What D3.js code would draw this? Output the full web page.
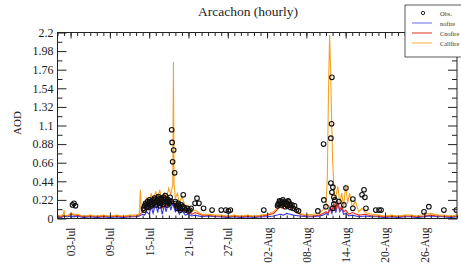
<!DOCTYPE html>
<html><head><meta charset="utf-8">
<script src="https://cdn.jsdelivr.net/npm/d3@7"></script>
<style>body{margin:0;background:#fff} svg{display:block}</style>
</head><body><svg id="c" width="461" height="265"></svg>
<script>
// ---- data (days since 01-Jul 00:00) ----
const tickDays = [2, 8, 14, 20, 26, 32, 38, 44, 50, 56];
const tickLabels = ["03-Jul","09-Jul","15-Jul","21-Jul","27-Jul","02-Aug","08-Aug","14-Aug","20-Aug","26-Aug"];
const yTicks = [0, 0.22, 0.44, 0.66, 0.88, 1.1, 1.32, 1.54, 1.76, 1.98, 2.2];
const yTickLabels = ["0","0.22","0.44","0.66","0.88","1.1","1.32","1.54","1.76","1.98","2.2"];
const legendLabels = ["Obs.","nofire","Cnofire","Callfire"];

const obsDay = [2.29,2.52,2.75,
 13.15,13.3,13.45,13.6,13.75,13.9,14.05,14.2,14.35,14.5,14.65,14.8,14.95,15.1,15.25,15.4,15.55,15.7,15.85,16.0,16.15,16.3,16.45,16.6,16.75,16.9,17.05,17.2,17.35,
 13.22,13.52,13.82,14.12,14.42,14.72,15.02,15.32,15.62,15.92,16.22,16.52,16.82,17.12,
 17.43,17.5,17.74,17.58,17.89,
 18.0,18.15,18.3,18.45,18.6,18.75,18.9,19.05,19.2,19.4,19.6,19.8,20.0,20.2,20.4,18.08,18.38,18.68,19.12,
 21.0,21.3,21.6,22.3,23.6,25.0,25.7,26.1,26.4,
 31.5,33.6,33.8,34.0,34.2,34.4,34.6,34.8,35.0,35.2,35.4,35.6,35.8,36.0,36.2,36.5,36.8,
 33.7,33.9,34.1,34.3,34.5,34.9,35.1,35.3,35.5,
 39.75,40.67,40.98,41.9,41.85,41.74,40.63,
 41.74,42.05,41.9,42.2,42.35,42.2,42.05,42.97,44.04,43.73,45.1,45.1,46.5,46.8,46.94,47.1,48.6,49.1,49.4,
 55.96,56.7,59.0,60.9];
const obsAOD = [0.16,0.18,0.15,
 0.12,0.15,0.18,0.14,0.2,0.17,0.22,0.19,0.15,0.21,0.18,0.24,0.2,0.16,0.22,0.26,0.2,0.18,0.24,0.21,0.17,0.23,0.27,0.2,0.16,0.22,0.18,0.25,0.2,
 0.1,0.16,0.13,0.2,0.17,0.22,0.19,0.24,0.15,0.19,0.25,0.23,0.19,0.21,
 1.05,0.9,0.81,0.67,0.54,
 0.2,0.15,0.12,0.18,0.14,0.1,0.16,0.12,0.28,0.13,0.1,0.12,0.09,0.1,0.12,0.18,0.16,0.12,0.14,
 0.18,0.24,0.18,0.12,0.1,0.1,0.1,0.09,0.1,
 0.1,0.15,0.18,0.2,0.16,0.22,0.19,0.14,0.17,0.21,0.18,0.13,0.16,0.12,0.15,0.1,0.09,
 0.17,0.21,0.18,0.2,0.17,0.19,0.15,0.2,0.16,
 0.09,0.22,0.14,1.67,1.12,0.95,0.88,
 0.42,0.37,0.31,0.25,0.22,0.17,0.12,0.2,0.36,0.16,0.23,0.12,0.28,0.34,0.25,0.12,0.1,0.1,0.1,
 0.08,0.14,0.1,0.1];

const nofireDay = [0,0.5,1,1.5,2,2.5,3,4,5,6,7,8,9,10,11,12,12.5,13,13.3,13.6,14,14.3,14.6,15,15.3,15.6,16,16.3,16.6,17,17.3,17.6,18,18.3,18.6,19,19.5,20,20.5,21,22,23,24,25,26,27,28,29,30,31,32,33,34,34.5,35,35.5,36,37,38,39,40,40.5,41,41.3,41.6,41.9,42.2,42.5,42.8,43.1,43.4,43.7,44,44.5,45,46,47,48,49,50,51,52,53,54,55,56,57,58,59,60,61];
const nofireAOD = [0.02,0.01,0.03,0.02,0.03,0.02,0.03,0.01,0.02,0.01,0.02,0.01,0.02,0.01,0.02,0.02,0.03,0.05,0.04,0.08,0.05,0.14,0.06,0.18,0.07,0.2,0.05,0.16,0.08,0.22,0.1,0.18,0.08,0.12,0.05,0.1,0.04,0.05,0.03,0.04,0.02,0.03,0.02,0.02,0.01,0.02,0.01,0.02,0.01,0.02,0.02,0.03,0.05,0.04,0.06,0.05,0.04,0.03,0.02,0.02,0.03,0.04,0.06,0.04,0.12,0.06,0.15,0.07,0.18,0.08,0.12,0.05,0.06,0.03,0.04,0.02,0.03,0.02,0.02,0.01,0.02,0.01,0.02,0.02,0.01,0.02,0.03,0.02,0.02,0.01,0.02];

const cnofireDay = [0,0.5,1,1.5,2,2.5,3,4,5,6,7,8,9,10,11,12,12.5,13,13.3,13.6,14,14.3,14.6,15,15.3,15.6,16,16.3,16.6,17,17.3,17.6,18,18.3,18.6,19,19.5,20,20.5,21,22,23,24,25,26,27,28,29,30,31,32,33,33.5,34,34.3,34.6,35,35.3,35.6,36,36.5,37,38,39,40,40.5,41,41.3,41.6,41.9,42.2,42.5,42.8,43.1,43.4,43.7,44,44.5,45,46,47,48,49,50,51,52,53,54,55,56,57,58,59,60,61];
const cnofireAOD = [0.03,0.02,0.04,0.03,0.05,0.04,0.04,0.02,0.03,0.02,0.03,0.02,0.03,0.02,0.03,0.03,0.04,0.08,0.1,0.14,0.1,0.2,0.12,0.22,0.14,0.25,0.12,0.22,0.15,0.26,0.18,0.22,0.14,0.18,0.1,0.15,0.08,0.09,0.05,0.07,0.04,0.04,0.03,0.03,0.02,0.03,0.02,0.03,0.02,0.03,0.04,0.06,0.1,0.14,0.12,0.18,0.13,0.17,0.11,0.14,0.08,0.05,0.03,0.03,0.04,0.06,0.08,0.06,0.14,0.09,0.18,0.1,0.2,0.1,0.15,0.08,0.1,0.05,0.07,0.04,0.05,0.03,0.03,0.02,0.03,0.02,0.03,0.03,0.02,0.03,0.04,0.03,0.03,0.02,0.03];

const callfireDay = [0,0.5,0.9,1.0,1.1,1.5,2,2.5,3,4,5,6,7,8,9,10,11,12,12.5,12.65,12.8,13,13.3,13.6,14,14.3,14.6,15,15.3,15.6,16,16.3,16.6,17,17.3,17.6,17.7,17.8,18,18.3,18.6,19,19.5,20,20.5,21,22,23,24,25,26,27,28,29,30,31,32,33,33.5,34,34.3,34.6,35,35.3,35.6,36,36.5,37,38,39,40,40.5,41,41.2,41.4,41.55,41.7,41.85,42.0,42.2,42.4,42.6,42.8,43.1,43.4,43.7,44,44.3,44.6,45,45.5,46,46.5,47,48,49,50,51,52,53,54,55,56,57,58,59,60,61];
const callfireAOD = [0.04,0.03,0.05,0.1,0.04,0.03,0.06,0.05,0.05,0.03,0.04,0.03,0.04,0.03,0.04,0.03,0.04,0.04,0.06,0.34,0.07,0.12,0.16,0.24,0.16,0.3,0.2,0.32,0.22,0.34,0.2,0.3,0.24,0.36,0.28,0.4,1.85,0.4,0.24,0.3,0.18,0.26,0.14,0.15,0.08,0.1,0.05,0.05,0.04,0.04,0.03,0.04,0.03,0.04,0.03,0.04,0.05,0.08,0.12,0.17,0.14,0.21,0.15,0.2,0.13,0.16,0.1,0.06,0.04,0.05,0.06,0.1,0.14,0.5,1.6,2.17,1.75,1.2,0.7,0.35,0.22,0.3,0.38,0.18,0.3,0.14,0.4,0.18,0.3,0.14,0.2,0.08,0.12,0.07,0.05,0.04,0.03,0.04,0.03,0.04,0.04,0.03,0.05,0.06,0.04,0.04,0.03,0.04];

// ---- layout ----
const svg = d3.select("#c");
const L = 57.5, R = 457, T = 32.5, B = 218.5;
const x = d3.scaleLinear().domain([0, 61]).range([L, R]);
const y = d3.scaleLinear().domain([0, 2.2]).range([B, T]);
const serif = "'Liberation Serif','Times New Roman',serif";

svg.append("defs").append("clipPath").attr("id","clip")
  .append("rect").attr("x",L).attr("y",T).attr("width",R-L).attr("height",B-T);

const plot = svg.append("g").attr("clip-path","url(#clip)");
const series = [
  {day: nofireDay, val: nofireAOD, color: "#3a3ae0"},
  {day: cnofireDay, val: cnofireAOD, color: "#e0321e"},
  {day: callfireDay, val: callfireAOD, color: "#f5a31f"}
];
const line = d3.line().x(d => x(d[0])).y(d => y(d[1]));
series.forEach(s => {
  plot.append("path").datum(s.day.map((d,i)=>[d, s.val[i]]))
    .attr("d", line).attr("fill","none").attr("stroke", s.color).attr("stroke-width", 1.1);
});
plot.selectAll("circle.obs").data(obsDay.map((d,i)=>[d, obsAOD[i]])).enter()
  .append("circle").attr("class","obs")
  .attr("cx", d=>x(d[0])).attr("cy", d=>y(d[1])).attr("r", 2.3)
  .attr("fill","none").attr("stroke","#111").attr("stroke-width",1.1);

// ---- axes ----
const minorDays = d3.range(0, 62);
const minorY = d3.range(1, 20, 2).map(k => k * 0.11);
function clean(g){ g.select(".domain").remove(); g.selectAll("line").attr("stroke","#222"); }

svg.append("g").attr("transform",`translate(0,${B})`)
  .call(d3.axisBottom(x).tickValues(minorDays).tickSize(-3).tickFormat("")).call(clean);
svg.append("g").attr("transform",`translate(0,${T})`)
  .call(d3.axisTop(x).tickValues(minorDays).tickSize(-3.5).tickFormat("")).call(clean);
svg.append("g").attr("transform",`translate(0,${T})`)
  .call(d3.axisTop(x).tickValues(tickDays).tickSize(-6).tickFormat("")).call(clean);
const xb = svg.append("g").attr("transform",`translate(0,${B})`)
  .call(d3.axisBottom(x).tickValues(tickDays).tickSize(-6).tickFormat((d,i)=>tickLabels[i])).call(clean);
xb.selectAll("text").attr("font-family",serif).attr("font-size",11.5).attr("fill","#222")
  .attr("transform","rotate(-90)").attr("text-anchor","end").attr("x",-9).attr("y",0).attr("dy","0.35em");

svg.append("g").attr("transform",`translate(${L},0)`)
  .call(d3.axisLeft(y).tickValues(minorY).tickSize(-5).tickFormat("")).call(clean);
svg.append("g").attr("transform",`translate(${R},0)`)
  .call(d3.axisRight(y).tickValues(minorY).tickSize(-5).tickFormat("")).call(clean);
svg.append("g").attr("transform",`translate(${R},0)`)
  .call(d3.axisRight(y).tickValues(yTicks).tickSize(-9).tickFormat("")).call(clean);
const yl = svg.append("g").attr("transform",`translate(${L},0)`)
  .call(d3.axisLeft(y).tickValues(yTicks).tickSize(-9).tickFormat((d,i)=>yTickLabels[i])).call(clean);
yl.selectAll("text").attr("font-family",serif).attr("font-size",12).attr("fill","#222").attr("x",-4);

svg.append("rect").attr("x",L).attr("y",T).attr("width",R-L).attr("height",B-T)
  .attr("fill","none").attr("stroke","#222").attr("stroke-width",1);

// ---- titles ----
svg.append("text").attr("x",248).attr("y",16).attr("text-anchor","middle")
  .attr("font-family",serif).attr("font-size",13.5).attr("fill","#222").text("Arcachon (hourly)");
svg.append("text").attr("transform","translate(21,123) rotate(-90)").attr("text-anchor","middle")
  .attr("font-family",serif).attr("font-size",11).attr("fill","#222").text("AOD");

// ---- legend ----
const lg = svg.append("g");
lg.append("rect").attr("x",405).attr("y",5).attr("width",70).attr("height",52)
  .attr("fill","#fff").attr("stroke","#333").attr("stroke-width",0.8);
const legColors = [null, "#6a6ae8", "#e0321e", "#f5b040"];
legendLabels.forEach((lab,i) => {
  const yy = 13 + i*10;
  if (i === 0) {
    lg.append("circle").attr("cx",423).attr("cy",yy).attr("r",1.7)
      .attr("fill","none").attr("stroke","#111").attr("stroke-width",0.9);
  } else {
    lg.append("line").attr("x1",412).attr("x2",432).attr("y1",yy).attr("y2",yy)
      .attr("stroke",legColors[i]).attr("stroke-width",1);
  }
  lg.append("text").attr("x",440).attr("y",yy+2.5).attr("font-family",serif)
    .attr("font-size",6.3).attr("fill","#333").text(lab);
});
</script></body></html>
